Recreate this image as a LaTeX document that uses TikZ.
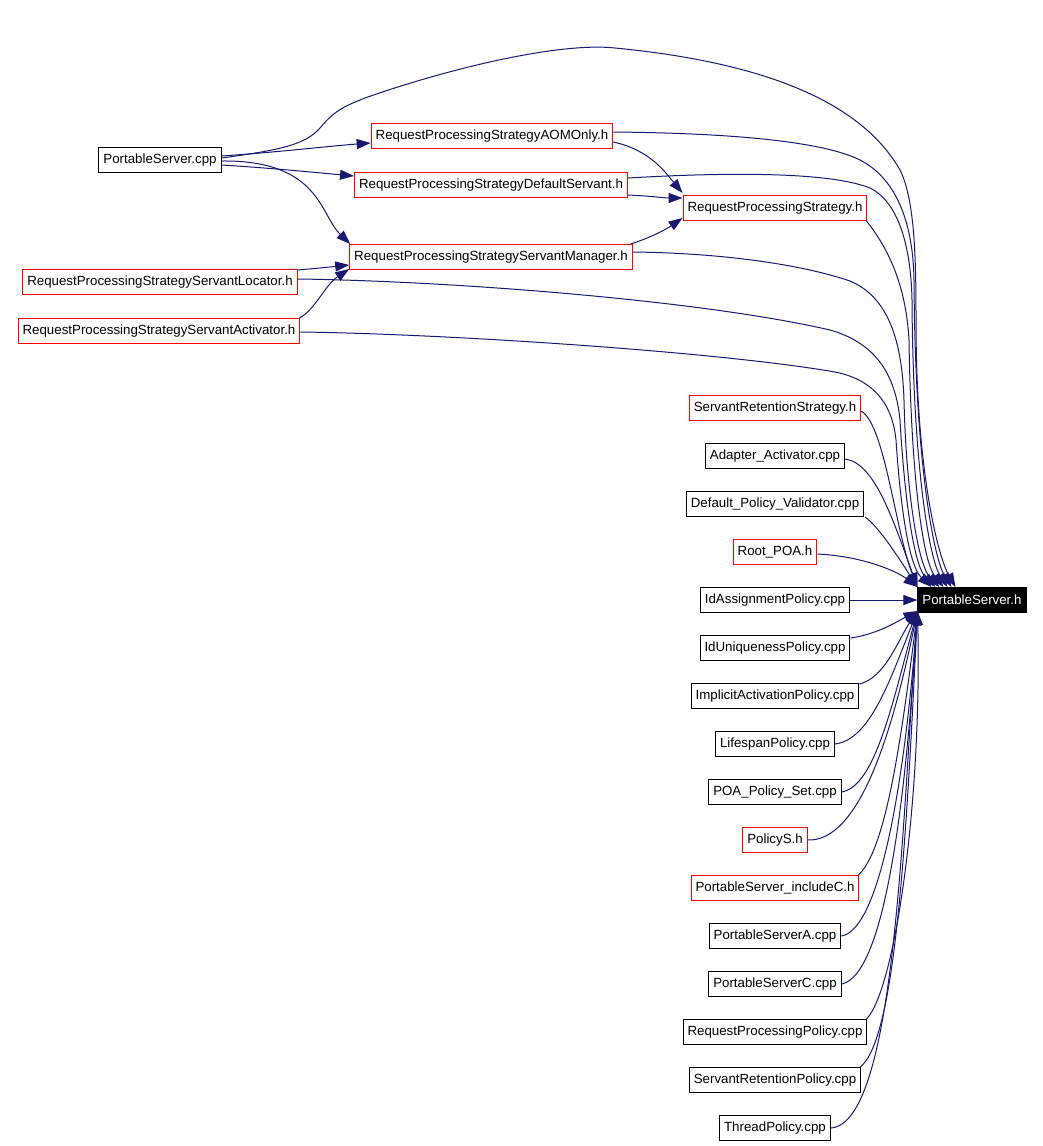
\documentclass[tikz,border=0pt]{standalone}
\usepackage{fontspec}
\setmainfont{Liberation Sans}
\usetikzlibrary{arrows.meta}

\definecolor{edgeblue}{RGB}{25,25,112}

\tikzset{
  srcbox/.style={draw=black, line width=1pt, font=\fontsize{13.3}{15}\selectfont,
    inner xsep=4.5pt, inner ysep=0pt, minimum height=25pt},
  hdrbox/.style={srcbox, draw=red},
  rootbox/.style={srcbox, fill=black, text=white},
  depline/.style={edgeblue, line width=1pt, -{Triangle[length=14pt,width=10pt]}},
}

\begin{document}
\begin{tikzpicture}[x=1pt, y=-1pt]
  % Sizes
  \pgfmathsetmacro{\colx}{775}
  \pgfmathsetmacro{\rowh}{48}
  \useasboundingbox (0,0) rectangle (1043,1146);

  % files, upper part
  \node[srcbox] (pscpp) at (160,160) {PortableServer.cpp};
  \node[hdrbox] (aom) at (492,136) {RequestProcessingStrategyAOMOnly.h};
  \node[hdrbox] (dflt) at (491,185) {RequestProcessingStrategyDefaultServant.h};
  \node[hdrbox] (rps) at (\colx,208) {RequestProcessingStrategy.h};
  \node[hdrbox] (mgr) at (491,257) {RequestProcessingStrategyServantManager.h};
  \node[hdrbox] (loc) at (160,282) {RequestProcessingStrategyServantLocator.h};
  \node[hdrbox] (act) at (159,331) {RequestProcessingStrategyServantActivator.h};

  % files, right column
  \node[hdrbox] (srs) at (\colx, 8.5*\rowh) {ServantRetentionStrategy.h};
  \node[srcbox] (aa) at (\colx, 9.5*\rowh) {Adapter\_Activator.cpp};
  \node[srcbox] (dpv) at (\colx, 10.5*\rowh) {Default\_Policy\_Validator.cpp};
  \node[hdrbox] (root) at (\colx, 11.5*\rowh) {Root\_POA.h};
  \node[srcbox] (idass) at (\colx, 12.5*\rowh) {IdAssignmentPolicy.cpp};
  \node[srcbox] (iduniq) at (\colx, 13.5*\rowh) {IdUniquenessPolicy.cpp};
  \node[srcbox] (impl) at (\colx, 14.5*\rowh) {ImplicitActivationPolicy.cpp};
  \node[srcbox] (life) at (\colx, 15.5*\rowh) {LifespanPolicy.cpp};
  \node[srcbox] (poa) at (\colx, 16.5*\rowh) {POA\_Policy\_Set.cpp};
  \node[hdrbox] (pols) at (\colx, 17.5*\rowh) {PolicyS.h};
  \node[hdrbox] (incl) at (\colx, 18.5*\rowh) {PortableServer\_includeC.h};
  \node[srcbox] (psa) at (\colx, 19.5*\rowh) {PortableServerA.cpp};
  \node[srcbox] (psc) at (\colx, 20.5*\rowh) {PortableServerC.cpp};
  \node[srcbox] (rpp) at (\colx, 21.5*\rowh) {RequestProcessingPolicy.cpp};
  \node[srcbox] (srp) at (\colx, 22.5*\rowh) {ServantRetentionPolicy.cpp};
  \node[srcbox] (thr) at (\colx, 23.5*\rowh) {ThreadPolicy.cpp};

  \node[rootbox] (psh) at (972, 12.5*\rowh) {PortableServer.h};

  % includes between the strategy headers
  \draw[depline] ([yshift=4pt]pscpp.east) .. controls (280,152) and (330,146) .. ([yshift=-7pt]aom.west);
  \draw[depline] ([yshift=-5pt]pscpp.east) .. controls (270,168) and (310,172) .. ([yshift=9pt]dflt.west);
  \draw[depline] ([yshift=-1pt]pscpp.east) .. controls (320,160) and (320,215) .. ([xshift=1pt]mgr.north west);
  \draw[depline] ([yshift=-6pt]aom.east) .. controls (650,150) and (665,172) .. ([yshift=2pt]rps.north west);
  \draw[depline] ([yshift=-10pt]dflt.east) .. controls (650,196) and (665,198) .. ([yshift=-3pt]rps.north west);
  \draw[depline] ([xshift=-2pt]mgr.north east) .. controls (655,236) and (668,228) .. ([yshift=3pt]rps.south west);
  \draw[depline] ([yshift=-1pt]loc.north east) .. controls (320,268) and (330,267) .. ([yshift=5pt]mgr.south west);
  \draw[depline] ([xshift=-1pt]act.north east) .. controls (315,310) and (325,285) .. ([yshift=1pt]mgr.south west);

  % upper part into PortableServer.h
  \draw[depline] ([yshift=2pt]pscpp.east) .. controls (280,150) and (305,145) .. (320,128)
    .. controls (335,110) and (345,106) .. (365,98) .. controls (450,68) and (560,42) .. (615,48)
    .. controls (760,62) and (860,100) .. (900,170) .. controls (915,200) and (916,260) .. (916,320)
    .. controls (916,480) and (940,560) .. ([xshift=38pt]psh.north west);
  \draw[depline] ([yshift=4pt]aom.east) .. controls (720,133) and (820,140) .. (860,160)
    .. controls (895,178) and (913,220) .. (914,280) .. controls (915,470) and (935,560) .. ([xshift=34pt]psh.north west);
  \draw[depline] ([yshift=7pt]dflt.east) .. controls (730,172) and (830,172) .. (870,188)
    .. controls (900,203) and (911,250) .. (912,300) .. controls (913,470) and (930,560) .. ([xshift=30pt]psh.north west);
  \draw[depline] ([xshift=-1pt]rps.south east) .. controls (888,248) and (906,285) .. (909,340)
    .. controls (911,470) and (922,560) .. ([xshift=26pt]psh.north west);
  \draw[depline] ([yshift=5pt]mgr.east) .. controls (720,253) and (800,264) .. (850,281)
    .. controls (888,297) and (902,340) .. (904,400) .. controls (906,490) and (918,565) .. ([xshift=22pt]psh.north west);
  \draw[depline] ([yshift=3pt]loc.east) .. controls (450,281) and (700,300) .. (830,330)
    .. controls (872,342) and (895,370) .. (900,420) .. controls (904,490) and (913,565) .. ([xshift=18pt]psh.north west);
  \draw[depline] ([yshift=-1pt]act.east) .. controls (450,334) and (720,352) .. (835,372)
    .. controls (870,379) and (892,400) .. (896,440) .. controls (900,500) and (908,565) .. ([xshift=14pt]psh.north west);

  % right column into PortableServer.h
  \draw[depline] ([yshift=-3pt]srs.east) .. controls (885,425) and (895,530) .. (psh.north west);
  \draw[depline] ([yshift=-3pt]aa.east) .. controls (875,463) and (893,520) .. (psh.north west);
  \draw[depline] ([xshift=1pt]dpv.south east) .. controls (880,528) and (900,560) .. (psh.north west);
  \draw[depline] ([yshift=-2pt]root.east) .. controls (860,556) and (895,570) .. (psh.north west);
  \draw[depline] (idass) -- (psh);
  \draw[depline] ([yshift=-3pt]iduniq.north east) .. controls (878,634) and (896,622) .. ([yshift=2pt]psh.south west);
  \draw[depline] ([yshift=-1pt]impl.north east) .. controls (885,678) and (898,640) .. ([yshift=2pt]psh.south west);
  \draw[depline] (life.east) .. controls (870,740) and (890,680) .. ([yshift=2pt]psh.south west);
  \draw[depline] (poa.east) .. controls (875,786) and (892,705) .. ([yshift=2pt]psh.south west);
  \draw[depline] (pols.east) .. controls (860,842) and (893,730) .. ([yshift=2pt]psh.south west);
  \draw[depline] ([xshift=-1pt]incl.north east) .. controls (885,850) and (900,750) .. ([yshift=2pt]psh.south west);
  \draw[depline] (psa.east) .. controls (880,930) and (905,780) .. ([yshift=2pt]psh.south west);
  \draw[depline] (psc.east) .. controls (885,975) and (906,800) .. ([yshift=2pt]psh.south west);
  \draw[depline] ([xshift=-1pt]rpp.north east) .. controls (895,990) and (922,800) .. ([yshift=2pt]psh.south west);
  \draw[depline] ([xshift=-1pt]srp.north east) .. controls (895,1040) and (906,850) .. ([yshift=2pt]psh.south west);
  \draw[depline] (thr.east) .. controls (895,1123) and (902,830) .. ([yshift=2pt]psh.south west);
\end{tikzpicture}
\end{document}
